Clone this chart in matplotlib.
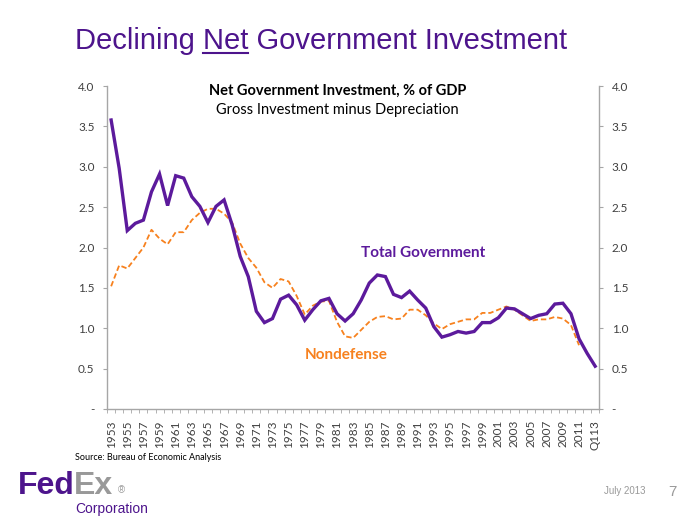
import numpy as np
import matplotlib
matplotlib.use('Agg')
import matplotlib.pyplot as plt
from matplotlib.lines import Line2D

# data (% of GDP)
years = [str(y) for y in range(1953, 2013)] + ['Q113']
total_gov = [3.58, 2.98, 2.21, 2.30, 2.34, 2.69, 2.91, 2.52, 2.89, 2.86,
             2.63, 2.51, 2.31, 2.51, 2.59, 2.28, 1.89, 1.64, 1.21, 1.07,
             1.12, 1.36, 1.41, 1.29, 1.10, 1.23, 1.34, 1.37, 1.18, 1.09,
             1.18, 1.35, 1.56, 1.66, 1.64, 1.42, 1.38, 1.46, 1.35, 1.25,
             1.02, 0.89, 0.92, 0.96, 0.94, 0.96, 1.07, 1.07, 1.13, 1.25,
             1.24, 1.18, 1.12, 1.16, 1.18, 1.30, 1.31, 1.18, 0.87, 0.69,
             0.53]
nondefense = [1.52, 1.78, 1.74, 1.87, 2.00, 2.22, 2.11, 2.04, 2.19, 2.19,
              2.34, 2.43, 2.48, 2.48, 2.42, 2.31, 2.05, 1.87, 1.75, 1.57,
              1.50, 1.61, 1.58, 1.40, 1.17, 1.28, 1.33, 1.34, 1.08, 0.90,
              0.88, 0.98, 1.08, 1.14, 1.15, 1.11, 1.12, 1.23, 1.23, 1.16,
              1.06, 0.99, 1.05, 1.08, 1.11, 1.11, 1.19, 1.19, 1.23, 1.27,
              1.23, 1.16, 1.09, 1.11, 1.11, 1.14, 1.12, 1.04, 0.79,
              np.nan, np.nan]
y_ticks = [0, 0.5, 1.0, 1.5, 2.0, 2.5, 3.0, 3.5, 4.0]
y_labels = ['-', '0.5', '1.0', '1.5', '2.0', '2.5', '3.0', '3.5', '4.0']

purple = '#5C1A9C'
fedex_purple = '#4D148C'
orange = '#F7811E'
grey = '#A6A6A6'
txt = '#404040'

fig = plt.figure(figsize=(7, 5.25), dpi=100)
ax = fig.add_axes([0.153, 0.221, 0.703, 0.615])

x = np.arange(len(years))
ax.plot(x, nondefense, color=orange, lw=1.3, ls=(0, (3, 1.6)))
ax.plot(x, total_gov, color=purple, lw=2.4, solid_joinstyle='miter')

ax.set_xlim(-0.5, len(years) - 0.5)
ax.set_ylim(0, 4.0)
ax.set_yticks(y_ticks)
ax.set_yticklabels(y_labels, fontsize=8.5, color=txt, family='Lato')
ax.tick_params(axis='y', direction='out', length=3, color=grey, pad=6)

# category axis: ticks between categories, labels on every other year
ax.set_xticks(np.arange(len(years) + 1) - 0.5, minor=True)
ax.set_xticks(x[::2])
ax.set_xticklabels(years[::2], rotation=90, fontsize=8.5, color=txt, family='Lato')
ax.tick_params(axis='x', which='major', length=0, pad=8)
ax.tick_params(axis='x', which='minor', length=3, color=grey, direction='out')

for s in ['left', 'right', 'bottom']:
    ax.spines[s].set_color(grey)
    ax.spines[s].set_linewidth(1.0)
ax.spines['top'].set_visible(False)

ax2 = ax.twinx()
ax2.set_ylim(0, 4.0)
ax2.set_yticks(y_ticks)
ax2.set_yticklabels(y_labels, fontsize=8.5, color=txt, family='Lato')
ax2.tick_params(axis='y', direction='out', length=3, color=grey, pad=6)
for s in ['left', 'right', 'bottom', 'top']:
    ax2.spines[s].set_visible(False)

# chart titles and series labels
ax.text(0.468, 0.985, 'Net Government Investment, % of GDP', transform=ax.transAxes,
        ha='center', va='center', fontsize=10.5, fontweight='bold', family='Lato', color='black')
ax.text(0.468, 0.925, 'Gross Investment minus Depreciation', transform=ax.transAxes,
        ha='center', va='center', fontsize=10.5, family='Lato', color='black')
ax.text(0.643, 0.484, 'Total Government', transform=ax.transAxes, ha='center', va='center',
        fontsize=11, fontweight='bold', family='Lato', color=purple)
ax.text(0.485, 0.167, 'Nondefense', transform=ax.transAxes, ha='center', va='center',
        fontsize=11, fontweight='bold', family='Lato', color=orange)

# slide title with underlined "Net"
W, H = fig.get_size_inches() * fig.dpi
r = fig.canvas.get_renderer()
tx = 75 / W
ty_base = 1 - 49 / H
title_kw = dict(fontsize=21, color=fedex_purple, family='Liberation Sans', va='baseline')
fig.text(tx, ty_base, 'Declining Net Government Investment', **title_kw)
probe_a = fig.text(tx, ty_base, 'Declining Net', alpha=0, **title_kw)
probe_b = fig.text(tx, ty_base, 'Net', alpha=0, **title_kw)
wa = probe_a.get_window_extent(r).width
wb = probe_b.get_window_extent(r).width
x_end = tx * W + wa
x_start = x_end - wb
y_ul = ty_base * H - 4
fig.add_artist(Line2D([x_start / W, x_end / W], [y_ul / H, y_ul / H],
                      transform=fig.transFigure, color=fedex_purple, lw=1.5))
probe_a.remove()
probe_b.remove()

# footer
fig.text(75 / W, 1 - 457 / H, 'Source: Bureau of Economic Analysis', fontsize=6.5,
         family='Lato', color='black', va='center')
logo_kw = dict(fontsize=23, fontweight='bold', family='Liberation Sans', va='baseline')
t_fed = fig.text(18 / W, 1 - 494 / H, 'Fed', color=fedex_purple, **logo_kw)
fed_x1 = t_fed.get_window_extent(r).x1
t_ex = fig.text((fed_x1 - 1) / W, 1 - 494 / H, 'Ex', color='#999999', **logo_kw)
ex_x1 = t_ex.get_window_extent(r).x1
fig.text((ex_x1 + 5) / W, 1 - 493 / H, '\u00ae', fontsize=7, family='Liberation Sans',
         color='#999999', va='baseline')
fig.text(75 / W, 1 - 513 / H, 'Corporation', fontsize=10, family='Liberation Sans',
         color=fedex_purple, va='baseline')
fig.text(604 / W, 1 - 491 / H, 'July 2013', fontsize=7, family='Liberation Sans',
         color='#999999', va='center')
fig.text(668 / W, 1 - 492 / H, '7', fontsize=11, family='Liberation Sans',
         color='#999999', va='center')

fig.savefig('out.png', dpi=100)
